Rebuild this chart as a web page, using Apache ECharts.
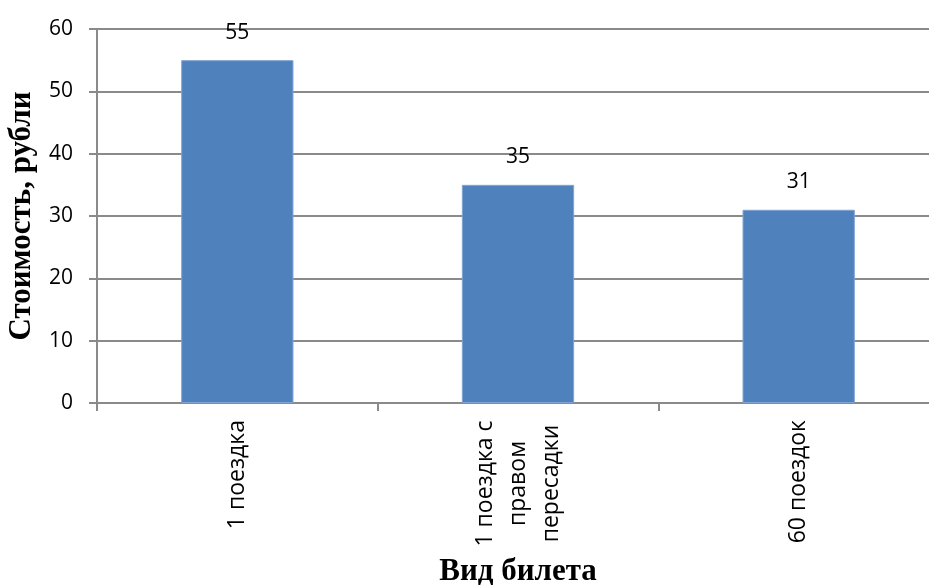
<!DOCTYPE html>
<html>
<head>
<meta charset="utf-8">
<script src="https://cdn.jsdelivr.net/npm/echarts@6/dist/echarts.min.js"></script>
<style>
  html, body { margin: 0; padding: 0; background: #fff; }
  #chart { width: 929px; height: 585px; }
</style>
</head>
<body>
<div id="chart"></div>
<script>
const categories = ["1 поездка", "1 поездка с\nправом\nпересадки", "60 поездок"];
const prices = [55, 35, 31];
const yTicks = [0, 10, 20, 30, 40, 50, 60];

const gray = "#8a8a8a";
const labelFont = { fontFamily: "Open Sans", fontSize: 23, lineHeight: 33, color: "#000" };
const chart = echarts.init(document.getElementById("chart"));
chart.setOption({
  animation: false,
  grid: { left: 97, right: -10, top: 29, bottom: 182, outerBoundsMode: "none", containLabel: false },
  xAxis: {
    type: "category",
    data: categories,
    name: "Вид билета",
    nameLocation: "middle",
    nameGap: 153,
    nameTextStyle: { fontFamily: "Liberation Serif", fontWeight: "bold", fontSize: 31, color: "#000" },
    axisLine: { lineStyle: { color: gray, width: 2 } },
    axisTick: { show: true, length: 8, lineStyle: { color: gray, width: 2 } },
    axisLabel: {
      rotate: 90,
      margin: 17,
      align: "right",
      verticalAlign: "middle",
      formatter: function (v) {
        const lines = v.split("\n");
        if (lines.length === 1) return "{s|" + v + "}";
        // wrapped label: every line centred in a box of the same width
        return lines.map(function (s) { return "{c|" + s + "}"; }).join("\n");
      },
      rich: {
        s: labelFont,
        c: Object.assign({ width: 127, align: "center" }, labelFont)
      }
    }
  },
  yAxis: {
    type: "value",
    min: yTicks[0],
    max: yTicks[yTicks.length - 1],
    interval: 10,
    name: "Стоимость, рубли",
    nameLocation: "middle",
    nameGap: 60,
    nameTextStyle: { fontFamily: "Liberation Serif", fontWeight: "bold", fontSize: 31, color: "#000" },
    axisLine: { show: true, lineStyle: { color: gray, width: 2 } },
    axisTick: { show: true, length: 8, lineStyle: { color: gray, width: 2 } },
    axisLabel: { margin: 24, fontFamily: "Open Sans", fontSize: 21, color: "#000" },
    splitLine: { lineStyle: { color: gray, width: 2 } }
  },
  series: [{
    type: "bar",
    data: prices,
    barWidth: "40%",
    itemStyle: { color: "#4F81BD", borderColor: "#7fa3d3", borderWidth: 1 },
    label: {
      show: true,
      position: "top",
      distance: 17,
      fontFamily: "Open Sans",
      fontSize: 21,
      color: "#000"
    }
  }]
});
</script>
</body>
</html>
